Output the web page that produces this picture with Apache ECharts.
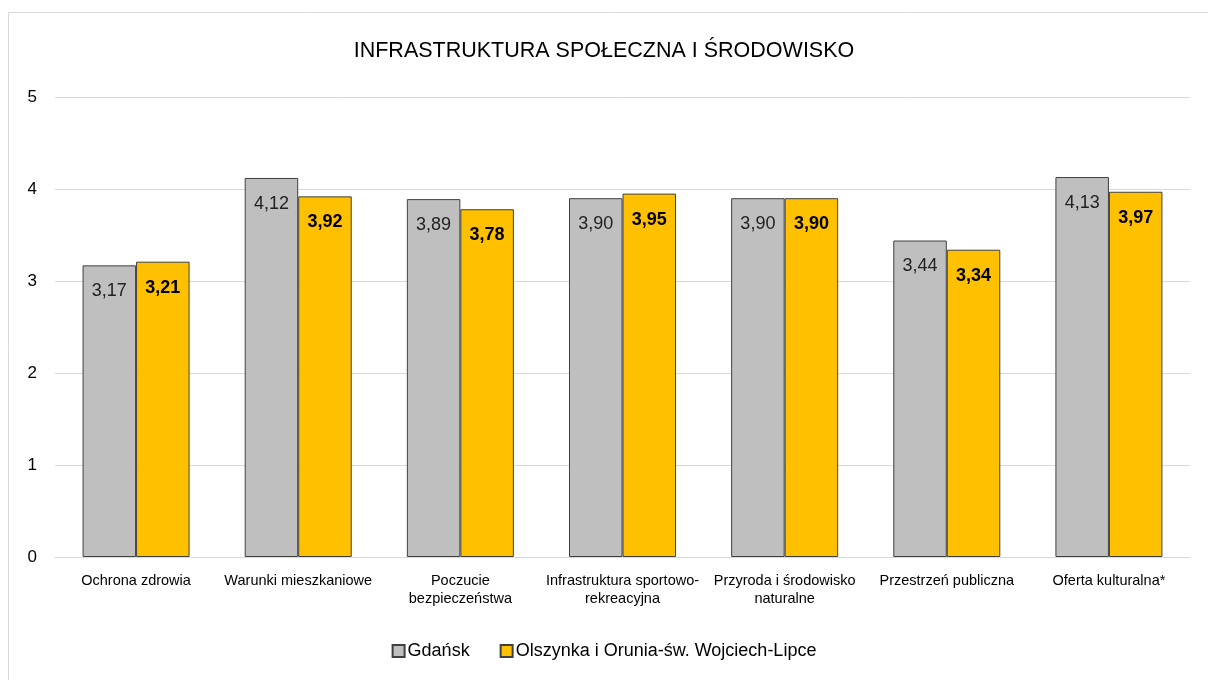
<!DOCTYPE html>
<html>
<head>
<meta charset="utf-8">
<script src="https://cdn.jsdelivr.net/npm/echarts@6/dist/echarts.min.js"></script>
<style>
  html, body { margin: 0; padding: 0; background: #fff; }
  #chart { width: 1208px; height: 680px; }
</style>
</head>
<body>
<div id="chart"></div>
<script>
const categories = [
  'Ochrona zdrowia',
  'Warunki mieszkaniowe',
  'Poczucie\nbezpieczeństwa',
  'Infrastruktura sportowo-\nrekreacyjna',
  'Przyroda i środowisko\nnaturalne',
  'Przestrzeń publiczna',
  'Oferta kulturalna*'
];
const gdansk = [3.17, 4.12, 3.89, 3.90, 3.90, 3.44, 4.13];
const olszynka = [3.21, 3.92, 3.78, 3.95, 3.90, 3.34, 3.97];
const seriesNames = ['Gdańsk', 'Olszynka i Orunia-św. Wojciech-Lipce'];

const font = '"Liberation Sans Narrow", "Arial Narrow", "Liberation Sans", sans-serif';
const fmt = p => p.value.toFixed(2).replace('.', ',');

const chart = echarts.init(document.getElementById('chart'));
chart.setOption({
  animation: false,
  textStyle: { fontFamily: font },
  graphic: [{
    type: 'rect',
    shape: { x: 8.5, y: 12.5, width: 1210, height: 680 },
    style: { fill: 'none', stroke: '#d9d9d9', lineWidth: 1 }
  }],
  title: {
    text: 'INFRASTRUKTURA SPOŁECZNA I ŚRODOWISKO',
    left: 'center',
    top: 35,
    textStyle: { fontFamily: font, fontSize: 21.5, fontWeight: 'normal', color: '#000' }
  },
  legend: {
    data: seriesNames,
    bottom: 15,
    left: 'center',
    icon: 'rect',
    itemWidth: 12,
    itemHeight: 12,
    itemGap: 30,
    textStyle: { fontFamily: font, fontSize: 18, color: '#000', padding: [0, 0, 0, -2] }
  },
  grid: { left: 55, right: 18, top: 97, bottom: 123, containLabel: false },
  xAxis: {
    type: 'category',
    data: categories,
    axisLine: { lineStyle: { color: '#d9d9d9', width: 1 } },
    axisTick: { show: false },
    axisLabel: { interval: 0, fontFamily: font, fontSize: 14.5, color: '#000', margin: 15, lineHeight: 18 }
  },
  yAxis: {
    type: 'value',
    min: 0,
    max: 5,
    interval: 1,
    axisLine: { show: false },
    axisTick: { show: false },
    axisLabel: { fontFamily: font, fontSize: 17, color: '#000', margin: 18 },
    splitLine: { lineStyle: { color: '#d9d9d9', width: 1 } }
  },
  series: [
    {
      name: seriesNames[0],
      type: 'bar',
      data: gdansk,
      barGap: '0%',
      barCategoryGap: '34%',
      itemStyle: { color: '#bfbfbf', borderColor: '#404040', borderWidth: 1 },
      label: {
        show: true, position: 'insideTop', distance: 17, formatter: fmt,
        fontFamily: font, fontSize: 18, color: '#222'
      }
    },
    {
      name: seriesNames[1],
      type: 'bar',
      data: olszynka,
      itemStyle: { color: '#ffc000', borderColor: '#404040', borderWidth: 1 },
      label: {
        show: true, position: 'insideTop', distance: 17, formatter: fmt,
        fontFamily: font, fontSize: 18, fontWeight: 'bold', color: '#000'
      }
    }
  ]
});
</script>
</body>
</html>
